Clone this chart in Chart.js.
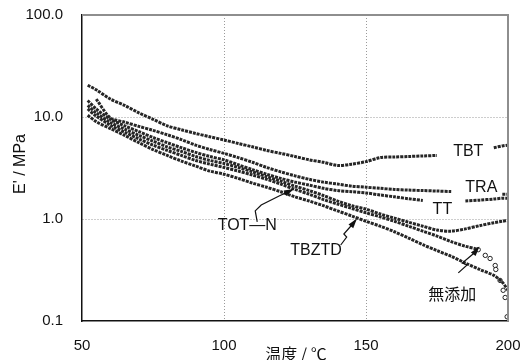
<!DOCTYPE html>
<html>
<head>
<meta charset="utf-8">
<script src="https://cdn.jsdelivr.net/npm/chart.js@4.4.1/dist/chart.umd.min.js"></script>
<style>
  html, body { margin: 0; padding: 0; background: #fff; }
  #wrap { width: 526px; height: 360px; }
</style>
</head>
<body>
<div id="wrap"><canvas id="chart" width="526" height="360"></canvas></div>
<script>
// Storage modulus vs temperature, one curve per additive

const temps = [52, 55, 60, 65, 70, 75, 80, 85, 90, 95, 100, 105, 110, 115, 120, 125,
               130, 135, 140, 145, 150, 155, 160, 165, 170, 175, 180, 185, 190, 195, 198, 200];

const tbt   = [20.5, 18.5, 15.0, 13.0, 11.0, 9.5, 8.2, 7.5, 6.9, 6.4, 5.95, 5.5, 5.1, 4.7, 4.4, 4.1,
               3.8, 3.6, 3.35, 3.45, 3.65, 4.0, 4.05, 4.1, 4.15, 4.2, null, null, null, 5.0, 5.2, 5.3];
const tra   = [null, 15.0, 9.8, 8.9, 8.1, 7.4, 6.7, 6.0, 5.3, 4.8, 4.4, 4.0, 3.6, 3.2, 2.9, 2.65,
               2.45, 2.3, 2.2, 2.1, 2.05, 2.0, 1.95, 1.92, 1.9, 1.88, 1.86, null, null, null, 1.75, 1.75];
const tt    = [14.5, 12.0, 9.5, 8.2, 7.2, 6.3, 5.6, 5.0, 4.5, 4.1, 3.8, 3.4, 3.05, 2.75, 2.5, 2.3,
               2.15, 2.0, 1.9, 1.85, 1.8, 1.72, 1.65, 1.58, 1.52, null, null, 1.5, 1.53, 1.57, 1.6, 1.6];
const totN  = [13.0, 11.0, 8.8, 7.6, 6.6, 5.8, 5.1, 4.6, 4.1, 3.75, 3.5, 3.2, 2.9, 2.6, 2.35, 2.1,
               1.9, 1.7, 1.5, 1.35, 1.25, 1.12, 1.02, 0.93, 0.85, 0.78, 0.76, 0.8, 0.86, 0.92, 0.95, 0.97];
const tbztd = [10.4, 9.0, 7.7, 6.6, 5.6, 4.8, 4.2, 3.7, 3.3, 2.95, 2.75, 2.5, 2.25, 2.05, 1.85, 1.65,
               1.5, 1.35, 1.2, 1.07, 0.95, 0.85, 0.75, 0.65, 0.56, 0.49, 0.43, 0.37, 0.32, 0.28, 0.24, 0.2];
// no additive: same temps up to 185, then a sparse tail of circles
const mutenka = [12.0, 10.2, 8.3, 7.1, 6.1, 5.3, 4.7, 4.2, 3.75, 3.45, 3.2, 2.95, 2.7, 2.45, 2.2, 1.95,
                 1.75, 1.55, 1.4, 1.27, 1.15, 1.05, 0.95, 0.85, 0.76, 0.68, 0.6, 0.54];
const mutenkaTailTemps  = [189.5, 192, 193.7, 195.5, 195.7, 197.2, 198.3, 199, 199.7];
const mutenkaTailValues = [0.50, 0.44, 0.41, 0.35, 0.32, 0.25, 0.20, 0.17, 0.11];

const xTicks = [50, 100, 150, 200];
const yTicks = [0.1, 1, 10, 100];
const yTickLabels = ['0.1', '1.0', '10.0', '100.0'];

// curve names written next to the curves, and their zigzag leaders (temp, MPa)
const curveLabels = [
  { text: 'TBT',   t: 186.0, v: 4.54 },
  { text: 'TRA',   t: 190.6, v: 2.03 },
  { text: 'TT',    t: 176.9, v: 1.25 },
  { text: 'TOT\u2014N', t: 108.2, v: 0.87 },
  { text: 'TBZTD', t: 132.4, v: 0.486 },
  { text: '無添加', t: 180.4, v: 0.184 }
];
const leaders = [
  [[111.7, 0.935], [111.0, 1.2], [113.1, 1.37], [119.4, 1.68], [124.0, 1.93]],
  [[141.1, 0.556], [143.2, 0.666], [142.2, 0.713], [145.3, 0.893], [146.4, 0.978]],
  [[182.5, 0.296], [185.6, 0.354], [183.9, 0.37], [188.1, 0.464], [189.5, 0.52]]
];

function pts(xs, ys) {
  return ys.map((y, i) => ({ x: xs[i], y: y }));
}

const LATIN = '"Liberation Sans", Arial, sans-serif';
const CJK = '"Noto Sans CJK JP", "Liberation Sans", sans-serif';
const INK = '#262626';

function curve(label, data, extra) {
  return Object.assign({
    label: label,
    data: data,
    borderColor: INK,
    borderWidth: 3,
    borderDash: [3, 1],
    pointRadius: 0,
    tension: 0.3,
    fill: false,
    spanGaps: false
  }, extra || {});
}

const annotate = {
  id: 'annotate',
  afterDatasetsDraw(chart) {
    const { ctx, chartArea: a, scales: { x, y } } = chart;
    ctx.save();

    // top and right edges of the frame
    ctx.strokeStyle = '#8e8e8e';
    ctx.lineWidth = 2;
    ctx.beginPath();
    ctx.moveTo(a.left, a.top);
    ctx.lineTo(a.right, a.top);
    ctx.lineTo(a.right, a.bottom);
    ctx.stroke();

    // leaders with arrow heads
    ctx.strokeStyle = '#111';
    ctx.fillStyle = '#111';
    ctx.lineWidth = 1.2;
    leaders.forEach(path => {
      const p = path.map(q => [x.getPixelForValue(q[0]), y.getPixelForValue(q[1])]);
      ctx.beginPath();
      ctx.moveTo(p[0][0], p[0][1]);
      for (let i = 1; i < p.length; i++) ctx.lineTo(p[i][0], p[i][1]);
      ctx.stroke();
      const e = p[p.length - 1], s = p[p.length - 2];
      const ang = Math.atan2(e[1] - s[1], e[0] - s[0]);
      ctx.beginPath();
      ctx.moveTo(e[0] + 2 * Math.cos(ang), e[1] + 2 * Math.sin(ang));
      ctx.lineTo(e[0] - 8 * Math.cos(ang) + 3 * Math.sin(ang), e[1] - 8 * Math.sin(ang) - 3 * Math.cos(ang));
      ctx.lineTo(e[0] - 8 * Math.cos(ang) - 3 * Math.sin(ang), e[1] - 8 * Math.sin(ang) + 3 * Math.cos(ang));
      ctx.closePath();
      ctx.fill();
    });

    // curve names
    ctx.textAlign = 'center';
    ctx.textBaseline = 'middle';
    curveLabels.forEach(l => {
      ctx.font = (l.text === '無添加' ? '16px ' + CJK : '16px ' + LATIN);
      ctx.fillText(l.text, x.getPixelForValue(l.t), y.getPixelForValue(l.v));
    });

    // axis titles
    ctx.font = '16px ' + LATIN;
    ctx.save();
    ctx.translate(21, (a.top + a.bottom) / 2 - 4);
    ctx.rotate(-Math.PI / 2);
    ctx.fillText("E' / MPa", 0, 0);
    ctx.restore();
    ctx.font = '16px ' + CJK;
    ctx.fillText('温度 / ℃', (a.left + a.right) / 2 + 1, 354);

    ctx.restore();
  }
};

new Chart(document.getElementById('chart'), {
  type: 'line',
  data: {
    datasets: [
      curve('TBT', pts(temps, tbt)),
      curve('TRA', pts(temps, tra)),
      curve('TT', pts(temps, tt)),
      curve('TOT-N', pts(temps, totN)),
      curve('TBZTD', pts(temps, tbztd)),
      curve('無添加', pts(temps, mutenka).concat(pts(mutenkaTailTemps, mutenkaTailValues)), {
        pointRadius: ctx => (ctx.raw && ctx.raw.x > 189) ? 2.2 : 0,
        pointStyle: 'circle',
        pointBackgroundColor: '#fff',
        pointBorderColor: '#222',
        pointBorderWidth: 1,
        segment: {
          borderColor: ctx => ctx.p0.parsed.x >= 189 ? 'transparent' : undefined
        }
      })
    ]
  },
  options: {
    responsive: false,
    animation: false,
    layout: { padding: { top: 15, right: 18, left: 0, bottom: 0 } },
    plugins: {
      legend: { display: false },
      tooltip: { enabled: false }
    },
    scales: {
      x: {
        type: 'linear',
        min: 50,
        max: 200,
        afterBuildTicks: s => { s.ticks = xTicks.map(v => ({ value: v })); },
        afterFit: s => { s.height = 39; s.paddingLeft = 0; s.paddingRight = 0; },
        ticks: {
          color: '#111',
          padding: 16,
          maxRotation: 0,
          font: { family: LATIN, size: 15 },
          callback: v => String(v)
        },
        grid: {
          drawTicks: false,
          color: ctx => (ctx.tick && (ctx.tick.value === 100 || ctx.tick.value === 150)) ? '#9a9a9a' : 'transparent'
        },
        border: { display: true, color: '#111', width: 1.5, dash: [1, 2] }
      },
      y: {
        type: 'logarithmic',
        min: 0.1,
        max: 100,
        afterBuildTicks: s => { s.ticks = yTicks.map(v => ({ value: v })); },
        afterFit: s => { s.width = 82; s.paddingTop = 0; s.paddingBottom = 0; },
        ticks: {
          color: '#111',
          padding: 19,
          font: { family: LATIN, size: 15 },
          callback: (v, i) => yTickLabels[i]
        },
        grid: {
          drawTicks: false,
          color: ctx => (ctx.tick && (ctx.tick.value === 1 || ctx.tick.value === 10)) ? '#9a9a9a' : 'transparent'
        },
        border: { display: true, color: '#111', width: 1.5, dash: [1, 2] }
      }
    }
  },
  plugins: [annotate]
});
</script>
</body>
</html>
